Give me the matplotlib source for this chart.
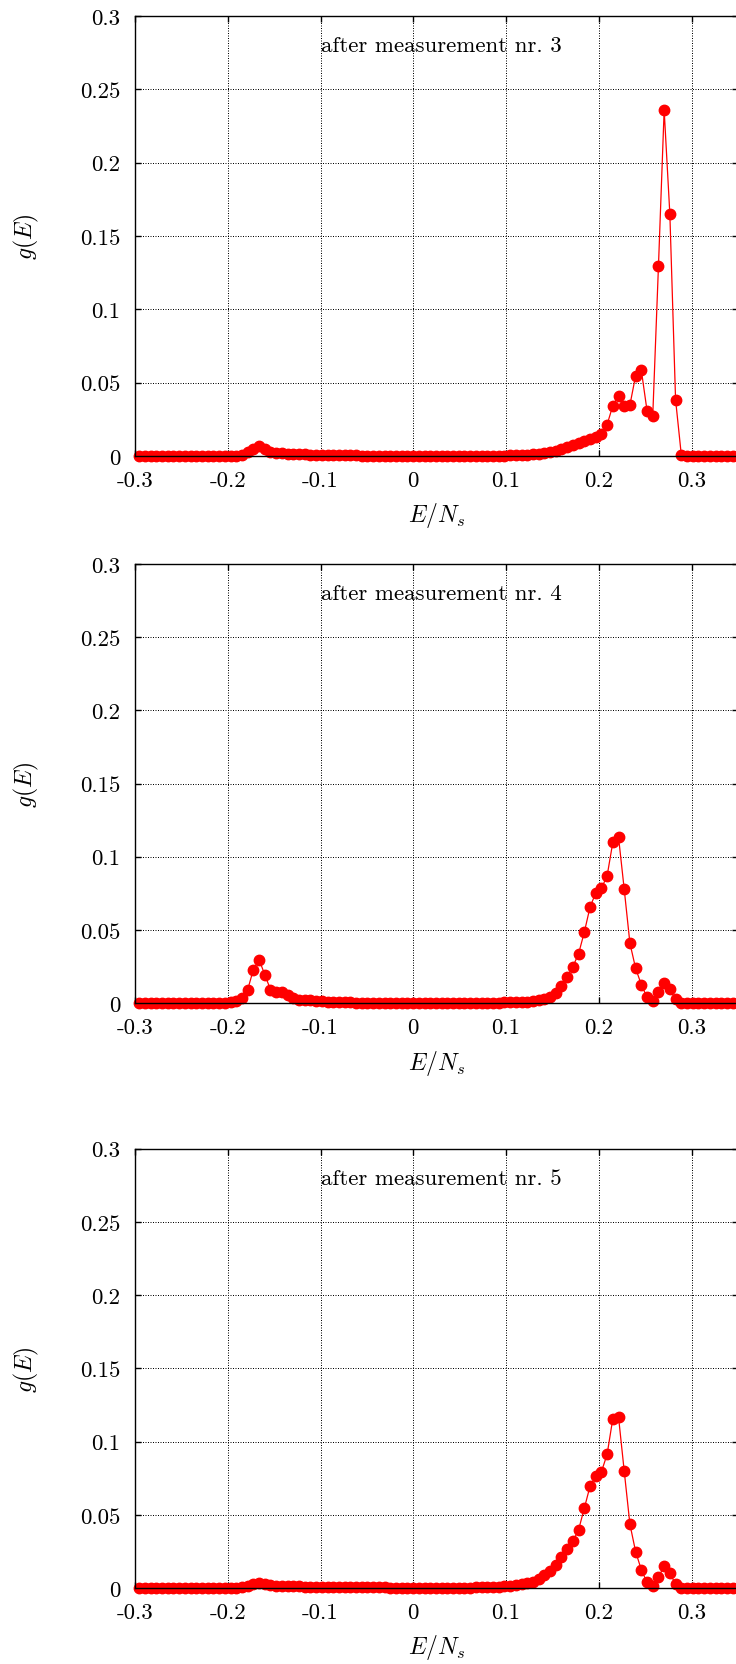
import numpy as np
import matplotlib
matplotlib.use("Agg")
import matplotlib.pyplot as plt
from matplotlib.ticker import FixedLocator, FuncFormatter

plt.rcParams['font.family'] = 'cmr10'
plt.rcParams['mathtext.fontset'] = 'cm'
plt.rcParams['axes.formatter.use_mathtext'] = True

# ============================
# Data
# ============================
# energy bins E/N_s: first bin centre and bin width
e_first = -0.2954
e_step = 0.00615

# g(E) after measurement nr. 3
g_meas3 = [
    0, 0, 0, 0, 0, 0, 0, 0, 0, 0,
    0, 0, 0, 0, 0, 0, 0.0001, 0.0003, 0.0008, 0.0025,
    0.0050, 0.0068, 0.0045, 0.0025, 0.0021, 0.0019, 0.0017, 0.0015, 0.0013, 0.0011,
    0.0010, 0.0009, 0.0008, 0.0007, 0.0006, 0.0005, 0.0005, 0.0004, 0.0004, 0.0003,
    0.0003, 0.0003, 0.0002, 0.0002, 0.0002, 0.0002, 0.0001, 0.0001, 0.0001, 0.0001,
    0.0001, 0.0001, 0.0001, 0.0001, 0.0001, 0.0001, 0.0001, 0.0001, 0.0001, 0.0001,
    0.0001, 0.0001, 0.0001, 0.0002, 0.0003, 0.0004, 0.0005, 0.0007, 0.0009, 0.0012,
    0.0016, 0.0021, 0.0028, 0.0036, 0.0046, 0.0058, 0.0072, 0.0088, 0.0102, 0.0115,
    0.0130, 0.0150, 0.0214, 0.0343, 0.0411, 0.0341, 0.0348, 0.0548, 0.0584, 0.0309,
    0.0273, 0.1293, 0.2359, 0.1648, 0.0384, 0.0010, 0, 0, 0, 0,
    0, 0, 0, 0, 0, 0,
]

# g(E) after measurement nr. 4
g_meas4 = [
    0, 0, 0, 0, 0, 0, 0, 0, 0, 0,
    0, 0, 0, 0, 0, 0.0001, 0.0004, 0.0012, 0.0032, 0.0091,
    0.0228, 0.0296, 0.0194, 0.0091, 0.0077, 0.0077, 0.0055, 0.0032, 0.0023, 0.0023,
    0.0018, 0.0014, 0.0011, 0.0009, 0.0007, 0.0006, 0.0005, 0.0004, 0.0003, 0.0003,
    0.0002, 0.0002, 0.0002, 0.0002, 0.0002, 0.0001, 0.0001, 0.0001, 0.0001, 0.0001,
    0.0001, 0.0001, 0.0001, 0.0001, 0.0001, 0.0001, 0.0001, 0.0001, 0.0001, 0.0001,
    0.0001, 0.0001, 0.0002, 0.0003, 0.0004, 0.0005, 0.0006, 0.0008, 0.0010, 0.0013,
    0.0018, 0.0027, 0.0039, 0.0068, 0.0116, 0.0180, 0.0248, 0.0337, 0.0483, 0.0654,
    0.0752, 0.0784, 0.0868, 0.1098, 0.1135, 0.0777, 0.0408, 0.0237, 0.0125, 0.0039,
    0.0016, 0.0077, 0.0139, 0.0094, 0.0025, 0.0003, 0, 0, 0, 0,
    0, 0, 0, 0, 0, 0,
]

# g(E) after measurement nr. 5
g_meas5 = [
    0, 0, 0, 0, 0, 0, 0, 0, 0, 0,
    0, 0, 0, 0, 0, 0, 0, 0.0002, 0.0005, 0.0015,
    0.0030, 0.0037, 0.0030, 0.0018, 0.0014, 0.0013, 0.0012, 0.0011, 0.0011, 0.0010,
    0.0010, 0.0009, 0.0009, 0.0008, 0.0008, 0.0007, 0.0007, 0.0006, 0.0006, 0.0005,
    0.0005, 0.0004, 0.0004, 0.0004, 0.0003, 0.0003, 0.0003, 0.0002, 0.0002, 0.0002,
    0.0002, 0.0002, 0.0002, 0.0002, 0.0002, 0.0002, 0.0003, 0.0003, 0.0003, 0.0004,
    0.0005, 0.0006, 0.0008, 0.0010, 0.0013, 0.0017, 0.0022, 0.0026, 0.0032, 0.0044,
    0.0063, 0.0086, 0.0117, 0.0158, 0.0212, 0.0266, 0.0319, 0.0397, 0.0544, 0.0693,
    0.0762, 0.0793, 0.0912, 0.1156, 0.1168, 0.0798, 0.0435, 0.0248, 0.0124, 0.0039,
    0.0015, 0.0076, 0.0148, 0.0100, 0.0027, 0.0003, 0, 0, 0, 0,
    0, 0, 0, 0, 0, 0,
]

measurements = [3, 4, 5]
series = [g_meas3, g_meas4, g_meas5]

x_ticks = [-0.3, -0.2, -0.1, 0.0, 0.1, 0.2, 0.3]
y_ticks = [0.0, 0.05, 0.1, 0.15, 0.2, 0.25, 0.3]

# ============================
# Figure (pixel layout of the three stacked panels)
# ============================
W, H = 736, 1665
fig = plt.figure(figsize=(W / 100, H / 100), dpi=100)

ax_left, ax_right = 135, 738          # right border falls just outside the picture
panel_px = [(17, 457), (565, 1004), (1149.5, 1589)]  # (top, bottom)

fmt = FuncFormatter(lambda v, p: f'{round(v, 3):g}')

for (top, bottom), nr, g in zip(panel_px, measurements, series):
    ax = fig.add_axes([ax_left / W, 1 - bottom / H,
                       (ax_right - ax_left) / W, (bottom - top) / H])
    g = np.array(g)
    E = e_first + e_step * np.arange(len(g))

    ax.plot(E, g, color='red', lw=0.9, marker='o', ms=7.5,
            mec='red', mfc='red', clip_on=False, zorder=2)

    ax.set_xlim(-0.3, 0.35)
    ax.set_ylim(0, 0.3)
    ax.xaxis.set_major_locator(FixedLocator(x_ticks))
    ax.yaxis.set_major_locator(FixedLocator(y_ticks))
    ax.xaxis.set_major_formatter(fmt)
    ax.yaxis.set_major_formatter(fmt)
    ax.tick_params(direction='in', length=4.3, width=1.0, top=True, right=True,
                   labelsize=16.5, pad=10.5)
    for sp in ax.spines.values():
        sp.set_linewidth(1.0)
        sp.set_zorder(3)

    ax.grid(True, color='black', lw=0.72, linestyle=(0, (1, 1.5)), zorder=0)
    ax.set_axisbelow(True)

    ax.text(-0.1, 0.276, f'after measurement nr. {nr}', fontsize=16.5,
            ha='left', va='baseline')

    ax.set_xlabel(r'$E/N_s$', fontsize=17, va='center')
    ax.xaxis.set_label_coords(0.5, -59 / (bottom - top))
    ax.set_ylabel(r'$g(E)$', fontsize=17, ha='center', va='center')
    ax.yaxis.set_label_coords(-(ax_left - 26) / (ax_right - ax_left), 0.5)

fig.savefig('out.png', dpi=100)
